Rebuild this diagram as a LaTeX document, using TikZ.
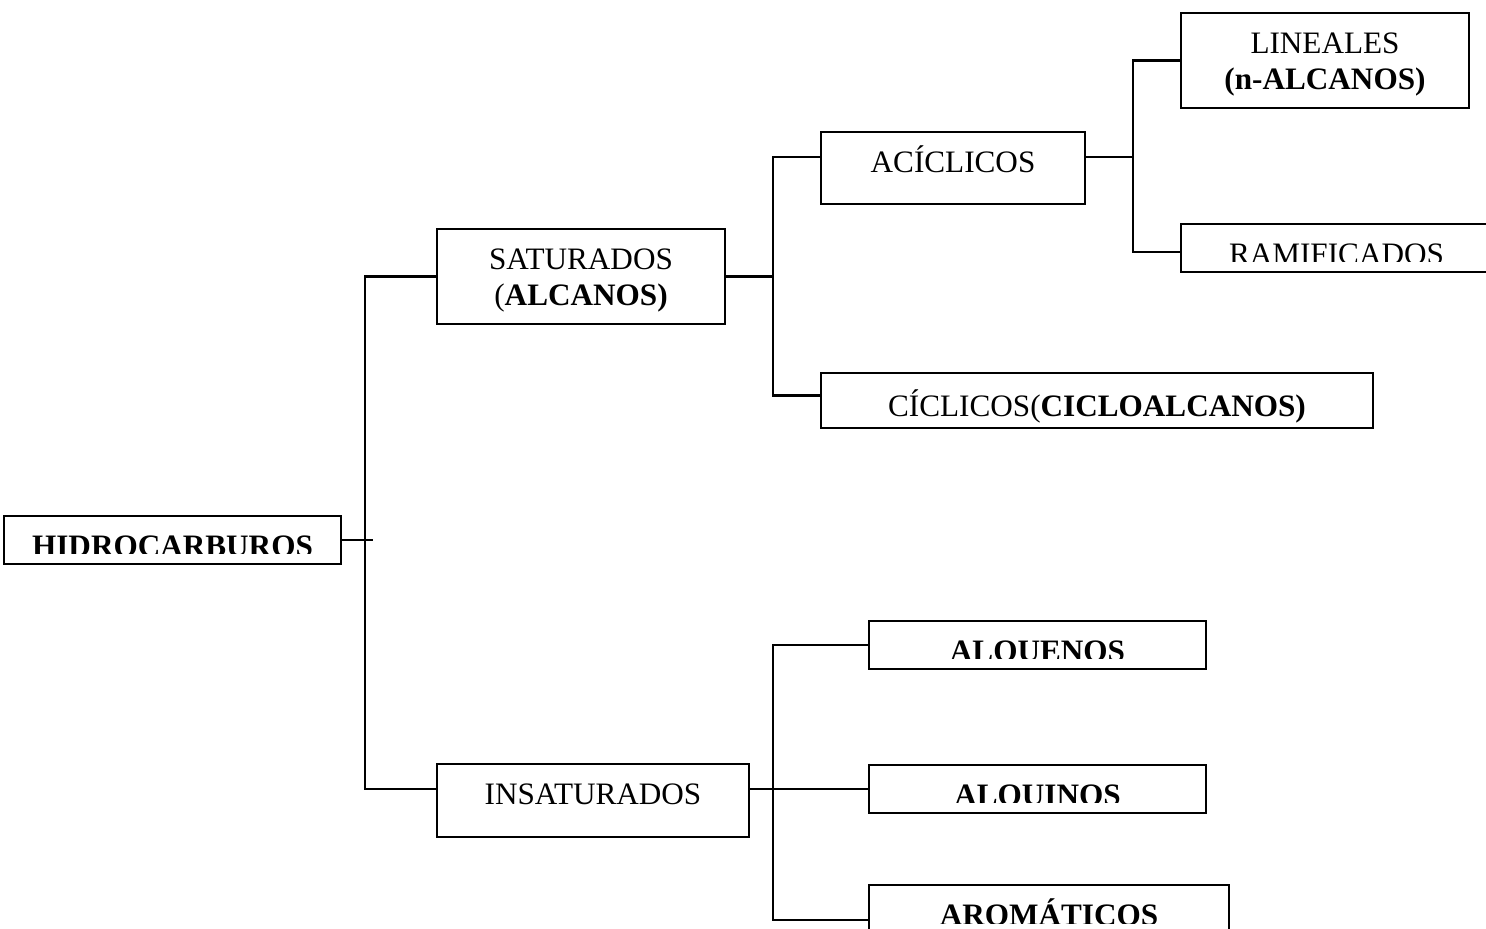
\documentclass[tikz,border=0pt]{standalone}
\usepackage{fontspec}
\setmainfont{Liberation Serif}
\usetikzlibrary{fit}

\tikzset{
  caja/.style={draw,line width=1.1pt,inner sep=0pt},
  rotulo/.style={font=\fontsize{15.6}{18}\selectfont,align=center,anchor=base},
  texto/.style={path picture={
      \node[rotulo] at ([yshift=-20pt]path picture bounding box.north) {#1};}},
  textocorte/.style={path picture={
      \clip (path picture bounding box.north west) rectangle ([yshift=5.5pt]path picture bounding box.south east);
      \node[rotulo] at ([yshift=-20pt]path picture bounding box.north) {#1};}},
  linea/.style={line width=1.1pt}
}

\begin{document}
\begin{tikzpicture}[x=0.5pt,y=-0.5pt]
  \useasboundingbox (0,0) rectangle (1486,928);

  \node[caja,fit={(4,516) (341,564)},textocorte={\textbf{HIDROCARBUROS}}] (hidro) {};
  \node[caja,fit={(437,229) (725,324)},texto={SATURADOS\\(\textbf{ALCANOS)}}] (satur) {};
  \node[caja,fit={(437,764) (749,837)},texto={INSATURADOS}] (insat) {};
  \node[caja,fit={(821,132) (1085,204)},texto={ACÍCLICOS}] (acic) {};
  \node[caja,fit={(821,373) (1373,428)},texto={\raisebox{-1.5pt}{CÍCLICOS(\textbf{CICLOALCANOS)}}}] (cicl) {};
  \node[caja,fit={(1181,13) (1469,108)},texto={LINEALES\\\textbf{(n-ALCANOS)}}] (line) {};
  \node[caja,fit={(1181,224) (1492,272)},textocorte={RAMIFICADOS}] (ramif) {};
  \node[caja,fit={(869,621) (1206,669)},textocorte={\textbf{ALQUENOS}}] (alque) {};
  \node[caja,fit={(869,765) (1206,813)},textocorte={\textbf{ALQUINOS}}] (alqui) {};
  \node[caja,fit={(869,885) (1229,934)},textocorte={\textbf{AROMÁTICOS}}] (arom) {};

  \coordinate (nudo1) at (365,540);
  \coordinate (nudo2) at (773,276.5);
  \coordinate (nudo3) at (1133,157);
  \coordinate (nudo4) at (773,789);

  \draw[linea] (hidro.east) -- ([xshift=4pt]nudo1);
  \draw[linea] (satur.west) -| (nudo1) |- (insat.west |- alqui.west);

  \draw[linea] (satur.east) -- (nudo2);
  \draw[linea] ([yshift=5.5pt]acic.west) -| (nudo2) |- ([yshift=2.5pt]cicl.west);

  \draw[linea] ([yshift=5.5pt]acic.east) -- (nudo3);
  \draw[linea] (line.west) -| (nudo3) |- ([yshift=-2pt]ramif.west);

  \draw[linea] (insat.east |- alqui.west) -- (alqui.west);
  \draw[linea] (alque.west) -| (nudo4) |- ([yshift=-5.25pt]arom.west);
\end{tikzpicture}
\end{document}
